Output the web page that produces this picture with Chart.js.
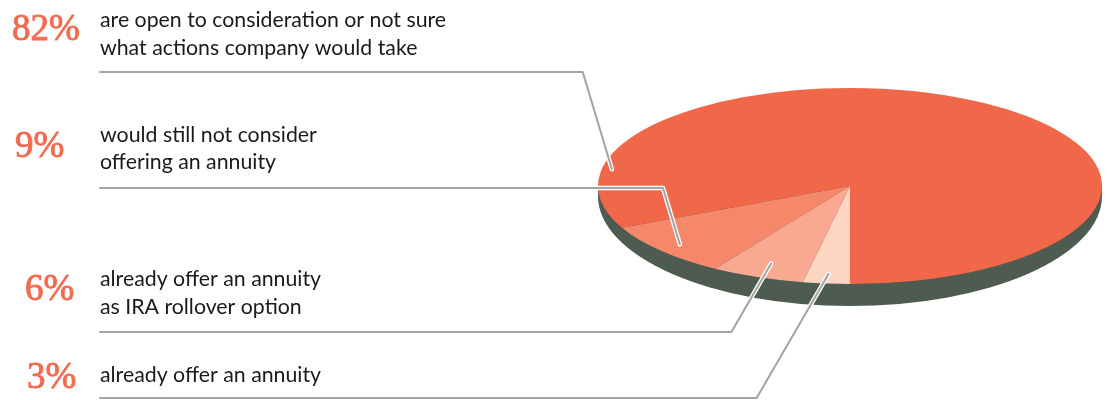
<!DOCTYPE html>
<html>
<head>
<meta charset="utf-8">
<script src="https://cdn.jsdelivr.net/npm/chart.js@4"></script>
<style>
  html, body { margin: 0; padding: 0; background: #fff; }
  #pie { display: block; }
</style>
</head>
<body>
<canvas id="pie" width="1110" height="400"></canvas>
<script>
// slices, clockwise starting at 6 o'clock
var categories = ['already offer an annuity', 'already offer an annuity as IRA rollover option', 'would still not consider offering an annuity', 'are open to consideration or not sure what actions company would take'];
var values = [3, 6, 9, 82];
var percentLabels = ['3%', '6%', '9%', '82%'];
var textLines = [
  ['already offer an annuity'],
  ['already offer an annuity', 'as IRA rollover option'],
  ['would still not consider', 'offering an annuity'],
  ['are open to consideration or not sure', 'what actions company would take']
];
var colors = ['#fcd5c3', '#f9a98f', '#f5886b', '#f1674a'];

// where the tilted pie sits on the page
var tilt = { cx: 850, cy: 186, rx: 252, ry: 98, drop: 10, grow: 12, side: '#4d5b50' };

// callout layout, same order as the slices
var callouts = [
  { pctX: 27, pctY: 388, textY: [382], lineY: 398, frac: 0.5, rf: 0.9 },
  { pctX: 25, pctY: 300, textY: [286, 314], lineY: 332, frac: 0.5, rf: 0.85 },
  { pctX: 15, pctY: 157, textY: [142, 169], lineY: 188, frac: 0.5, rf: 0.9 },
  { pctX: 12, pctY: 40, textY: [27, 55], lineY: 72, frac: 0.12, rf: 0.96 }
];

var tiltPlugin = {
  id: 'tilt',
  beforeDatasetsDraw: function(chart) {
    var arc = chart.getDatasetMeta(0).data[0];
    var R = arc.outerRadius;
    var ctx = chart.ctx;
    ctx.save();
    // side wall of the disc
    ctx.fillStyle = tilt.side;
    ctx.beginPath();
    ctx.ellipse(tilt.cx, tilt.cy + tilt.drop, tilt.rx, tilt.ry + tilt.grow, 0, 0, Math.PI);
    ctx.lineTo(tilt.cx - tilt.rx, tilt.cy);
    ctx.lineTo(tilt.cx + tilt.rx, tilt.cy);
    ctx.closePath();
    ctx.fill();
    // squash the pie into an ellipse
    ctx.translate(tilt.cx, tilt.cy);
    ctx.scale(tilt.rx / R, tilt.ry / R);
    ctx.translate(-arc.x, -arc.y);
  },
  afterDatasetsDraw: function(chart) {
    var ctx = chart.ctx;
    ctx.restore();
    var meta = chart.getDatasetMeta(0);
    meta.data.forEach(function(arc, i) {
      var c = callouts[i];
      var a = arc.startAngle + (arc.endAngle - arc.startAngle) * c.frac;
      var ax = tilt.cx + Math.cos(a) * tilt.rx * c.rf;
      var ay = tilt.cy + Math.sin(a) * tilt.ry * c.rf;
      var cornerX = ax - Math.abs(ay - c.lineY) * (c.lineY < ay ? 0.3 : 0.58);

      ctx.save();
      ctx.lineJoin = 'round';
      ctx.lineCap = 'round';
      ctx.beginPath();
      ctx.moveTo(100, c.lineY);
      ctx.lineTo(cornerX, c.lineY);
      ctx.lineTo(ax, ay);
      ctx.strokeStyle = '#ffffff';
      ctx.lineWidth = 4.5;
      ctx.stroke();
      ctx.strokeStyle = '#a3a3a3';
      ctx.lineWidth = 2;
      ctx.stroke();

      // percent figures, slightly heavier than the regular serif
      ctx.fillStyle = '#f26b4f';
      ctx.strokeStyle = '#f26b4f';
      ctx.lineWidth = 0.9;
      ctx.font = '37px "Liberation Serif"';
      ctx.textBaseline = 'alphabetic';
      ctx.fillText(percentLabels[i], c.pctX, c.pctY);
      ctx.strokeText(percentLabels[i], c.pctX, c.pctY);

      ctx.fillStyle = '#1a1a1a';
      ctx.font = '21.3px Lato';
      textLines[i].forEach(function(t, j) {
        ctx.fillText(t, 100, c.textY[j]);
      });
      ctx.restore();
    });
  }
};

new Chart(document.getElementById('pie'), {
  type: 'pie',
  data: {
    labels: categories,
    datasets: [{
      data: values,
      backgroundColor: colors,
      borderWidth: 0
    }]
  },
  options: {
    responsive: false,
    animation: false,
    events: [],
    rotation: 180,
    layout: { padding: { left: 650, right: 60, top: 0, bottom: 0 } },
    plugins: {
      legend: { display: false },
      tooltip: { enabled: false }
    }
  },
  plugins: [tiltPlugin]
});
</script>
</body>
</html>
